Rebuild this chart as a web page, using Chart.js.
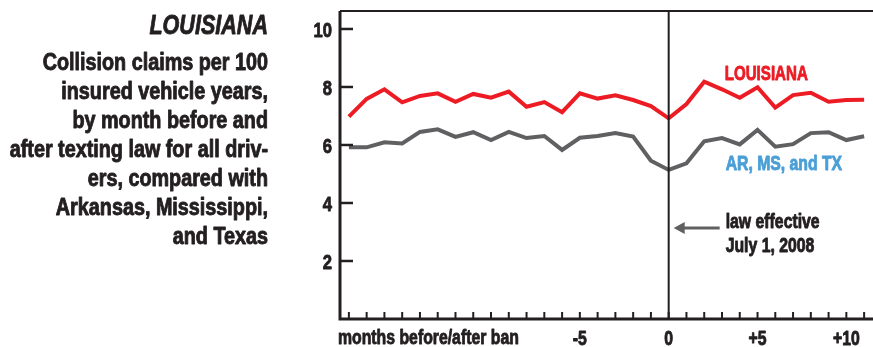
<!DOCTYPE html>
<html>
<head>
<meta charset="utf-8">
<script src="https://cdn.jsdelivr.net/npm/chart.js@4.4.1/dist/chart.umd.min.js"></script>
<style>
  html, body { margin: 0; padding: 0; background: #fff; }
  #wrap { width: 873px; height: 347px; position: relative; }
</style>
</head>
<body>
<div id="wrap"><canvas id="claimsChart"></canvas></div>
<script>
// months relative to the texting ban (0 = July 2008)
const months = [-18, -17, -16, -15, -14, -13, -12, -11, -10, -9, -8, -7, -6, -5, -4, -3, -2, -1,
                0, 1, 2, 3, 4, 5, 6, 7, 8, 9, 10, 11];
const louisiana = [6.98, 7.59, 7.92, 7.47, 7.69, 7.78, 7.49, 7.76, 7.63, 7.84, 7.32, 7.48, 7.13, 7.78,
                   7.60, 7.71, 7.55, 7.34, 6.92, 7.41, 8.18, 7.92, 7.63, 7.99, 7.29, 7.72, 7.80, 7.49, 7.55, 7.56];
const comparison = [5.92, 5.92, 6.09, 6.05, 6.45, 6.54, 6.28, 6.44, 6.17, 6.45, 6.24, 6.31, 5.83, 6.25,
                    6.31, 6.41, 6.29, 5.46, 5.14, 5.37, 6.13, 6.24, 6.02, 6.52, 5.94, 6.03, 6.41, 6.44, 6.17, 6.30];
const yTicks = [2, 4, 6, 8, 10];
const xTickLabels = ['-5', '0', '+5', '+10'];

const title = 'LOUISIANA';
const description = [
    'Collision claims per 100',
    'insured vehicle years,',
    'by month before and',
    'after texting law for all driv-',
    'ers, compared with',
    'Arkansas, Mississippi,',
    'and Texas'
];

const FONT = '"Liberation Sans", Arial, sans-serif';
const INK = '#231f20';
const RED = '#ed1c24';
const GREY = '#606062';
const BLUE = '#4a9fd6';
const SQUEEZE = 0.79;   // fake a condensed face

function monthLabel(m) {
    return m > 0 ? '+' + m : String(m);
}

// narrow + heavy text: squeeze horizontally and add a hairline stroke
function squeezedText(ctx, text, x, y, k, align) {
    ctx.save();
    ctx.translate(x, y);
    ctx.scale(k, 1);
    ctx.textAlign = align;
    ctx.strokeStyle = ctx.fillStyle;
    ctx.lineWidth = 0.9;
    ctx.lineJoin = 'round';
    ctx.fillText(text, 0, 0);
    ctx.strokeText(text, 0, 0);
    ctx.restore();
}

const extras = {
    id: 'extras',
    afterDraw(chart) {
        const ctx = chart.ctx;
        const area = chart.chartArea;
        const xs = chart.scales.x;
        const ys = chart.scales.y;
        ctx.save();
        ctx.textBaseline = 'alphabetic';

        // title block on the left
        ctx.fillStyle = INK;
        ctx.font = 'italic bold 28px ' + FONT;
        squeezedText(ctx, title, 268, 34, 0.77, 'right');
        ctx.font = 'bold 23px ' + FONT;
        description.forEach(function(line, i) {
            squeezedText(ctx, line, 268, 70 + i * 29, 0.86, 'right');
        });

        // frame: left, top, bottom
        ctx.strokeStyle = INK;
        ctx.lineWidth = 3;
        ctx.beginPath();
        ctx.moveTo(area.left, area.top);
        ctx.lineTo(area.left, area.bottom);
        ctx.lineTo(chart.width, area.bottom);
        ctx.stroke();
        ctx.lineWidth = 2;
        ctx.beginPath();
        ctx.moveTo(area.left, area.top);
        ctx.lineTo(chart.width, area.top);
        ctx.stroke();

        // y ticks (inward) and labels
        ctx.font = 'bold 21px ' + FONT;
        yTicks.forEach(function(v) {
            const y = ys.getPixelForValue(v);
            ctx.strokeStyle = INK;
            ctx.lineWidth = 2.5;
            ctx.beginPath();
            ctx.moveTo(area.left, y);
            ctx.lineTo(area.left + 13, y);
            ctx.stroke();
            squeezedText(ctx, String(v), area.left - 8, y + 8, SQUEEZE, 'right');
        });

        // x ticks (inward) and labels
        ctx.font = 'bold 20px ' + FONT;
        months.forEach(function(m, i) {
            const x = xs.getPixelForValue(i);
            ctx.strokeStyle = INK;
            ctx.lineWidth = 2;
            ctx.beginPath();
            ctx.moveTo(x, area.bottom);
            ctx.lineTo(x, area.bottom - 7);
            ctx.stroke();
            const lbl = monthLabel(m);
            if (xTickLabels.includes(lbl)) {
                squeezedText(ctx, lbl, x, 345, SQUEEZE, 'center');
            }
        });
        squeezedText(ctx, 'months before/after ban', 338, 344, SQUEEZE, 'left');

        // law effective line
        const x0 = xs.getPixelForValue(months.indexOf(0));
        ctx.strokeStyle = INK;
        ctx.lineWidth = 2;
        ctx.beginPath();
        ctx.moveTo(x0, area.top);
        ctx.lineTo(x0, area.bottom);
        ctx.stroke();

        // arrow
        ctx.strokeStyle = GREY;
        ctx.fillStyle = GREY;
        ctx.lineWidth = 3;
        ctx.beginPath();
        ctx.moveTo(x0 + 51, 228);
        ctx.lineTo(x0 + 14, 228);
        ctx.stroke();
        ctx.beginPath();
        ctx.moveTo(x0 + 5, 228);
        ctx.lineTo(x0 + 16, 222);
        ctx.lineTo(x0 + 16, 234);
        ctx.closePath();
        ctx.fill();

        ctx.fillStyle = INK;
        ctx.font = 'bold 20px ' + FONT;
        squeezedText(ctx, 'law effective', x0 + 57, 228, SQUEEZE, 'left');
        squeezedText(ctx, 'July 1, 2008', x0 + 57, 252, SQUEEZE, 'left');

        // series labels
        ctx.font = 'bold 21px ' + FONT;
        ctx.fillStyle = RED;
        squeezedText(ctx, 'LOUISIANA', x0 + 56, 80, 0.72, 'left');
        ctx.fillStyle = BLUE;
        squeezedText(ctx, 'AR, MS, and TX', x0 + 57, 170, 0.75, 'left');

        ctx.restore();
    }
};

new Chart(document.getElementById('claimsChart'), {
    type: 'line',
    data: {
        labels: months,
        datasets: [{
            label: 'Louisiana',
            data: louisiana,
            borderColor: RED,
            borderWidth: 4,
            pointRadius: 0,
            tension: 0
        }, {
            label: 'AR, MS, and TX',
            data: comparison,
            borderColor: GREY,
            borderWidth: 4,
            pointRadius: 0,
            tension: 0
        }]
    },
    options: {
        responsive: true,
        maintainAspectRatio: false,
        animation: false,
        events: [],
        layout: { padding: { left: 290, top: 11, right: 0, bottom: 0 } },
        plugins: {
            legend: { display: false },
            tooltip: { enabled: false }
        },
        scales: {
            x: {
                type: 'category',
                offset: true,
                grid: { display: false },
                border: { display: false },
                ticks: { display: false },
                afterFit: function(s) { s.height = 28; }
            },
            y: {
                min: 0,
                max: 10.62,
                grid: { display: false, drawTicks: false },
                border: { display: false },
                ticks: { display: false },
                afterFit: function(s) { s.width = 50; },
                afterBuildTicks: function(s) {
                    s.ticks = yTicks.map(function(v) { return { value: v }; });
                }
            }
        }
    },
    plugins: [extras]
});
</script>
</body>
</html>
